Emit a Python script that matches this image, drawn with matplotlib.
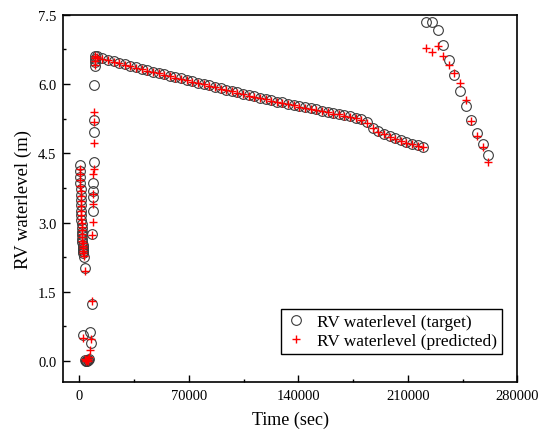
import matplotlib
matplotlib.use("Agg")
import matplotlib.pyplot as plt
from matplotlib.ticker import MultipleLocator

plt.rcParams['font.family'] = ['Liberation Serif', 'DejaVu Serif']

# initial drop (first ~3000 s)
t_start = [300, 400, 500, 600, 700, 800, 900, 1000, 1100, 1200, 1300, 1400,
           1500, 1600, 1700, 1800, 1900, 2000, 2100, 2200, 2300, 2500, 2700, 3300]
target_start = [4.25, 4.12, 3.98, 3.85, 3.72, 3.60, 3.48, 3.37, 3.26, 3.16, 3.06, 2.97,
                 2.88, 2.80, 2.72, 2.65, 2.58, 2.52, 2.47, 2.42, 2.38, 2.33, 2.26, 2.01]
pred_start = [4.15, 4.05, 3.92, 3.80, 3.69, 3.58, 3.47, 3.36, 3.26, 3.17, 3.08, 2.99,
              2.91, 2.83, 2.75, 2.68, 2.61, 2.55, 2.49, 2.44, 2.39, 2.33, 2.28, 1.96]

# empty tank and refill
t_refill = [2400, 3700, 4100, 4500, 4900, 5300, 5700, 6100, 6800, 7400, 8000,
            8300, 8450, 8600, 8750, 8900, 9050, 9200, 9350, 9500, 9650, 9800, 9950, 10100]
target_refill = [0.57, 0.02, 0.01, 0.01, 0.00, 0.02, 0.03, 0.05, 0.63, 0.39, 1.24,
                 2.75, 3.26, 3.55, 3.69, 3.86, 4.31, 4.95, 5.21, 5.98, 6.40, 6.48, 6.55, 6.61]
pred_refill = [0.50, 0.05, 0.02, 0.00, 0.02, 0.00, 0.04, 0.08, 0.23, 0.48, 1.31,
               2.73, 3.01, 3.40, 3.62, 4.05, 4.16, 4.72, 5.18, 5.39, 6.42, 6.50, 6.56, 6.60]

# slow decline
t_decline = [11000, 14600, 18200, 21800, 25400, 29000, 32600, 36200, 39800, 43400,
             47000, 50600, 54200, 57800, 61400, 65000, 68600, 72200, 75800, 79400,
             83000, 86600, 90200, 93800, 97400, 101000, 104600, 108200, 111800, 115400,
             119000, 122600, 126200, 129800, 133400, 137000, 140600, 144200, 147800, 151400,
             155000, 158600, 162200, 165800, 169400, 173000, 176600, 180200, 183800, 187400,
             191000, 194600, 198200, 201800, 205400, 209000, 212600, 216200, 219800]
target_decline = [6.60, 6.57, 6.53, 6.50, 6.46, 6.43, 6.40, 6.36, 6.33, 6.30,
                  6.27, 6.24, 6.21, 6.18, 6.15, 6.12, 6.09, 6.06, 6.03, 6.00,
                  5.97, 5.94, 5.91, 5.88, 5.85, 5.82, 5.79, 5.76, 5.73, 5.70,
                  5.68, 5.65, 5.62, 5.60, 5.57, 5.55, 5.52, 5.50, 5.47, 5.45,
                  5.42, 5.40, 5.37, 5.35, 5.32, 5.30, 5.27, 5.24, 5.17, 5.05,
                  4.98, 4.92, 4.87, 4.82, 4.78, 4.74, 4.70, 4.67, 4.64]
pred_decline = [6.58, 6.55, 6.52, 6.48, 6.45, 6.42, 6.38, 6.35, 6.32, 6.29,
                6.26, 6.23, 6.20, 6.17, 6.14, 6.11, 6.08, 6.05, 6.02, 5.99,
                5.96, 5.93, 5.90, 5.87, 5.84, 5.81, 5.78, 5.75, 5.72, 5.69,
                5.67, 5.64, 5.61, 5.59, 5.56, 5.54, 5.51, 5.49, 5.46, 5.44,
                5.41, 5.39, 5.36, 5.34, 5.31, 5.29, 5.26, 5.23, 5.16, 5.04,
                4.97, 4.91, 4.86, 4.81, 4.77, 4.73, 4.69, 4.66, 4.63]

# second event
t_end = [221700, 225300, 228900, 232500, 236100, 239700, 243300, 246900, 250500, 254100, 257700, 261300]
target_end = [7.34, 7.34, 7.17, 6.84, 6.52, 6.19, 5.85, 5.53, 5.21, 4.94, 4.69, 4.47]
pred_end = [6.78, 6.69, 6.83, 6.61, 6.41, 6.24, 6.02, 5.66, 5.19, 4.88, 4.63, 4.31]

t = t_start + t_refill + t_decline + t_end
target = target_start + target_refill + target_decline + target_end
pred = pred_start + pred_refill + pred_decline + pred_end

fig = plt.figure(figsize=(5.49, 4.39), dpi=100)
ax = fig.add_axes([0.1153, 0.1269, 0.8273, 0.8373])

ax.plot(t, target, linestyle='none', marker='o', markersize=7, markerfacecolor='none',
        markeredgecolor='#3a3a3a', markeredgewidth=0.8, label='RV waterlevel (target)')
ax.plot(t, pred, linestyle='none', marker='+', markersize=6, color='red',
        markeredgewidth=1.0, label='RV waterlevel (predicted)')

ax.set_xlim(-10300, 280000)
ax.set_ylim(-0.46, 7.5)
ax.xaxis.set_major_locator(MultipleLocator(70000))
ax.xaxis.set_minor_locator(MultipleLocator(35000))
ax.yaxis.set_major_locator(MultipleLocator(1.5))
ax.yaxis.set_minor_locator(MultipleLocator(0.75))
ax.yaxis.set_major_formatter(plt.FormatStrFormatter('%.1f'))
ax.tick_params(which='both', direction='in', top=False, right=False, labelsize=10.5, pad=5)
ax.tick_params(which='major', length=5, width=1.0)
ax.tick_params(which='minor', length=2.5, width=1.0)
for s in ax.spines.values():
    s.set_linewidth(1.2)

ax.set_xlabel('Time (sec)', fontsize=13, labelpad=6)
ax.set_ylabel('RV waterlevel (m)', fontsize=13.5, labelpad=4)

leg = ax.legend(loc='lower right', bbox_to_anchor=(0.967, 0.077), borderaxespad=0,
                fontsize=12.5, handlelength=1.2, handletextpad=0.6, fancybox=False,
                edgecolor='black', framealpha=1, borderpad=0.3, labelspacing=0.15)
leg.get_frame().set_linewidth(1.0)

fig.savefig('out.png', dpi=100)
